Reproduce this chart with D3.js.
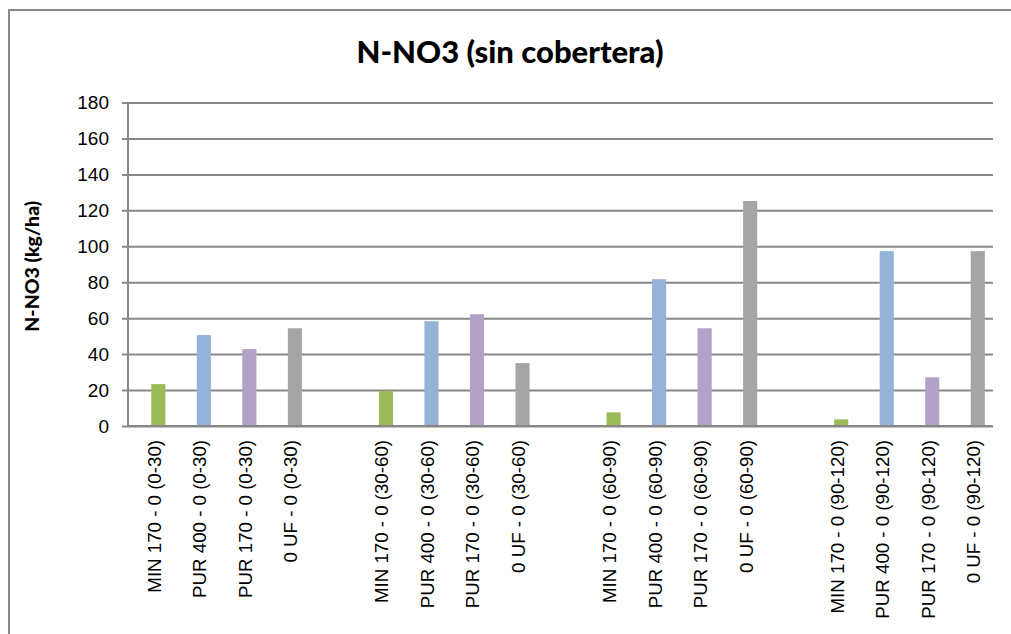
<!DOCTYPE html>
<html>
<head>
<meta charset="utf-8">
<script src="https://cdn.jsdelivr.net/npm/d3@7"></script>
<style>
  html, body { margin: 0; padding: 0; background: #fff; }
  svg { display: block; }
</style>
</head>
<body>
<svg id="chart" width="1011" height="634"></svg>
<script>
// ---- data ----
const categories = [
  "MIN 170 - 0 (0-30)", "PUR 400 - 0 (0-30)", "PUR 170 - 0 (0-30)", "0 UF - 0 (0-30)", "",
  "MIN 170 - 0 (30-60)", "PUR 400 - 0 (30-60)", "PUR 170 - 0 (30-60)", "0 UF - 0 (30-60)", "",
  "MIN 170 - 0 (60-90)", "PUR 400 - 0 (60-90)", "PUR 170 - 0 (60-90)", "0 UF - 0 (60-90)", "",
  "MIN 170 - 0 (90-120)", "PUR 400 - 0 (90-120)", "PUR 170 - 0 (90-120)", "0 UF - 0 (90-120)"
];
const values = [
  23.3, 50.6, 42.8, 54.4, null,
  19.6, 58.3, 62.2, 35.0, null,
  7.6, 81.7, 54.4, 125.2, null,
  3.7, 97.3, 27.1, 97.3
];
const treatments = ["MIN 170", "PUR 400", "PUR 170", "0 UF"];
const treatmentColors = ["#9BBB59", "#95B3D7", "#B2A2C7", "#A5A5A5"];
const yTicks = [0, 20, 40, 60, 80, 100, 120, 140, 160, 180];
const title = "N-NO3 (sin cobertera)";
const yTitle = "N-NO3 (kg/ha)";

// ---- layout ----
const svg = d3.select("#chart");
const plot = { left: 128, right: 993, top: 102.5, bottom: 426 };
const gridColor = "#878787";

svg.append("rect").attr("x", 0).attr("y", 0).attr("width", 1011).attr("height", 634).attr("fill", "#fff");
// chart area border (extends beyond right/bottom edge)
svg.append("rect")
  .attr("x", 9).attr("y", 10).attr("width", 1020).attr("height", 640)
  .attr("fill", "none").attr("stroke", gridColor).attr("stroke-width", 2);

const x = d3.scaleBand()
  .domain(d3.range(categories.length))
  .range([plot.left, plot.right])
  .paddingInner(0).paddingOuter(0);
const y = d3.scaleLinear().domain([0, 180]).range([plot.bottom, plot.top]);

const colorOf = i => {
  const name = categories[i];
  const t = treatments.findIndex(tr => name.startsWith(tr + " -"));
  return treatmentColors[t];
};

// gridlines + y axis
const yAxis = d3.axisLeft(y).tickValues(yTicks).tickSize(plot.right - plot.left + 6).tickPadding(13);
const gy = svg.append("g")
  .attr("transform", `translate(${plot.right},0)`)
  .call(yAxis);
gy.select(".domain").remove();
gy.selectAll(".tick line")
  .attr("x2", -(plot.right - plot.left + 6))
  .attr("stroke", gridColor).attr("stroke-width", 2);
gy.selectAll(".tick text")
  .attr("font-family", "'Liberation Sans', Arial, sans-serif")
  .attr("font-size", 19).attr("fill", "#000");

// y axis vertical line
svg.append("line")
  .attr("x1", plot.left).attr("x2", plot.left)
  .attr("y1", plot.top).attr("y2", plot.bottom)
  .attr("stroke", gridColor).attr("stroke-width", 2);

// bars
const barW = x.bandwidth() * 0.31;
svg.append("g").selectAll("rect")
  .data(values.map((v, i) => ({ v, i })).filter(d => d.v !== null))
  .join("rect")
  .attr("x", d => x(d.i) + x.bandwidth() / 2 + 0.5)
  .attr("width", barW)
  .attr("y", d => y(d.v))
  .attr("height", d => y(0) - y(d.v))
  .attr("fill", d => colorOf(d.i));

// x axis line
svg.append("line")
  .attr("x1", plot.left).attr("x2", plot.right)
  .attr("y1", plot.bottom).attr("y2", plot.bottom)
  .attr("stroke", gridColor).attr("stroke-width", 2);

// x labels
svg.append("g").selectAll("text")
  .data(categories.map((c, i) => ({ c, i })).filter(d => d.c !== ""))
  .join("text")
  .attr("transform", d => `translate(${x(d.i) + x.bandwidth() / 2 + 10},${plot.bottom + 14}) rotate(-90)`)
  .attr("text-anchor", "end")
  .attr("font-family", "'Liberation Sans', Arial, sans-serif")
  .attr("font-size", 18.7)
  .attr("fill", "#000")
  .text(d => d.c);

// title
svg.append("text")
  .attr("x", 510).attr("y", 63)
  .attr("text-anchor", "middle")
  .attr("font-family", "Lato, 'Open Sans', sans-serif")
  .attr("font-weight", "900")
  .attr("font-size", 31)
  .attr("fill", "#000")
  .text(title);

// y axis title
svg.append("text")
  .attr("transform", `translate(39,${(plot.top + plot.bottom) / 2 + 2}) rotate(-90)`)
  .attr("text-anchor", "middle")
  .attr("font-family", "Lato, 'Open Sans', sans-serif")
  .attr("font-weight", "900")
  .attr("font-size", 19.5)
  .attr("fill", "#000")
  .text(yTitle);
</script>
</body>
</html>
